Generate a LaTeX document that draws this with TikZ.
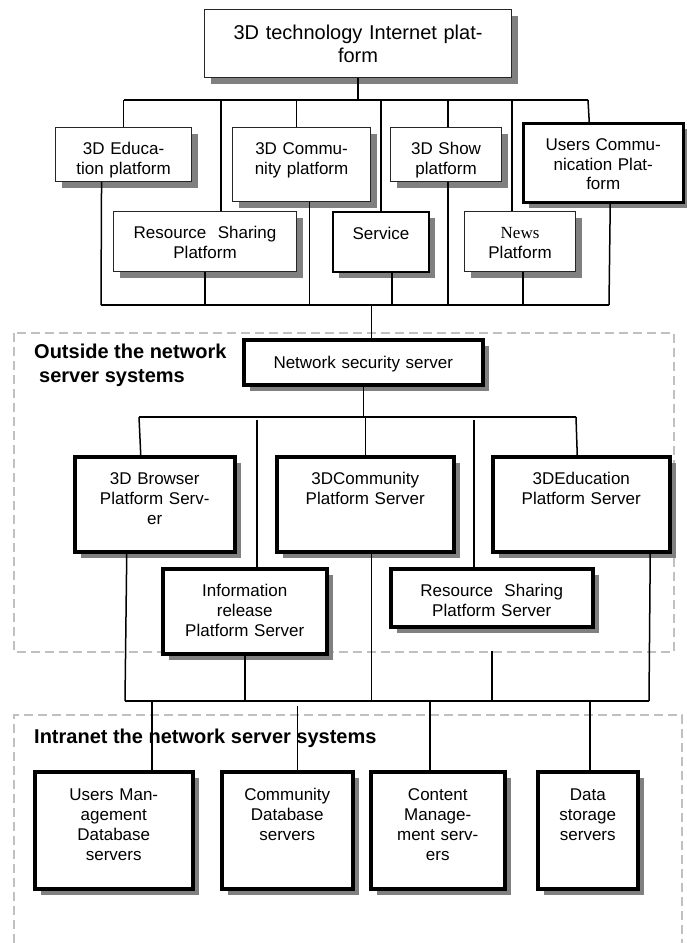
\documentclass[tikz,border=0pt]{standalone}
\usepackage{fontspec}
\setmainfont{Liberation Sans}
\newfontfamily\newsfont{Liberation Serif}
\usepackage{tikz}
\usetikzlibrary{shadows}
\definecolor{dashgray}{RGB}{192,192,192}
\definecolor{shadegray}{RGB}{128,128,128}

\begin{document}
\begin{tikzpicture}[x=1pt,y=-1pt,
		box/.style={rectangle, anchor=north west, inner sep=0pt, fill=white, align=center,
			font=\fontsize{17}{19.8}\selectfont, text height=27pt,
			drop shadow={shadow xshift=6pt, shadow yshift=-6pt, fill=shadegray, opacity=1}},
		thinbox/.style={box, draw=black!85, line width=1.1pt},
		thickbox/.style={box, draw=black, line width=3.5pt, text height=29pt},
		link/.style={draw, line width=1.5pt},
		zone/.style={draw=dashgray, line width=1.5pt, dash pattern=on 9pt off 5pt},
		zonelabel/.style={anchor=west, align=left, inner sep=0pt,
			font=\fontsize{20}{24}\selectfont\bfseries}]
		\useasboundingbox (0,0) rectangle (686,943);
		%
		\draw[zone] (14,333) rectangle (674,652);
		\draw[zone] (14,943) -- (14,715) -- (682,715) -- (682,943);
		\node[zonelabel] (outlbl) at (34,365) {Outside the network\\\hspace*{5pt}server systems};
		\node[zonelabel] (inlbl) at (34,738) {Intranet the network server systems};
		%
		\node[thinbox, text width=307pt, text height=30pt, text depth=38pt,
			font=\fontsize{20}{22.7}\selectfont] (top) at (204,9) {3D technology Internet plat-\\form};
		%
		\node[thinbox, text width=136pt, text depth=27pt] (edu) at (55,127) {3D Educa-\\tion platform};
		\node[thinbox, text width=138pt, text depth=47pt] (comm) at (232,127) {3D Commu-\\nity platform};
		\node[thinbox, text width=111pt, text depth=27pt] (show) at (390,127) {3D Show\\platform};
		\node[box, draw, line width=2.5pt, text width=160pt, text depth=52pt] (usrcom) at (522,122) {Users Commu-\\nication Plat-\\form};
		\node[thinbox, text width=183pt, text depth=33pt] (ressh) at (113,211) {Resource~ Sharing\\Platform};
		\node[box, draw, line width=2pt, text width=96pt, text depth=33pt] (serv) at (332,211) {Service};
		\node[thinbox, text width=111pt, text depth=33pt] (news) at (464,211) {{\newsfont News}\\Platform};
		%
		\node[thickbox, text width=239pt, text depth=16pt] (sec) at (242,338) {Network security server};
		\node[thickbox, text width=160pt, text height=28pt, text depth=67pt] (brw) at (73,455) {3D Browser\\Platform Serv-\\er};
		\node[thickbox, text width=177pt, text height=28pt, text depth=67pt] (csrv) at (275,455) {3DCommunity\\Platform Server};
		\node[thickbox, text width=177pt, text height=28pt, text depth=67pt] (esrv) at (491,455) {3DEducation\\Platform Server};
		\node[thickbox, text width=164pt, text height=28pt, text depth=57pt] (info) at (161,567) {Information\\release\\Platform Server};
		\node[thickbox, text width=202pt, text height=28pt, text depth=30pt] (rsrv) at (389,567) {Resource~ Sharing\\Platform Server};
		%
		\node[thickbox, text width=158pt, text depth=88pt] (umdb) at (33,770) {Users Man-\\agement\\Database\\servers};
		\node[thickbox, text width=131pt, text depth=88pt] (cdb) at (220,770) {Community\\Database\\servers};
		\node[thickbox, text width=134pt, text depth=88pt] (cms) at (369,770) {Content\\Manage-\\ment serv-\\ers};
		\node[thickbox, text width=100pt, text depth=88pt] (dss) at (536,770) {Data\\storage\\servers};
		%
		\coordinate (t1) at (124,100);
		\coordinate (t2) at (588,100);
		\coordinate (u1) at (101,305);
		\coordinate (u2) at (609,305);
		\coordinate (m1) at (139,417);
		\coordinate (m2) at (576,417);
		\coordinate (m3) at (0,420);
		\coordinate (l1) at (125,701);
		\coordinate (l2) at (649,701);
		\coordinate (l3) at (0,706);
		\coordinate (rs) at (492,651);
		%
		\draw[line width=2pt] (t1) -- (t2);
		\path[link]
		(top.south) edge (top.south |- t1)
		(edu.north) edge (edu.north |- t1)
		([xshift=16]ressh.north) edge ([xshift=16]ressh.north |- t1)
		([xshift=-5]comm.north) edge ([xshift=-5]comm.north |- t1)
		(serv.north) edge (serv.north |- t1)
		([xshift=2]show.north) edge ([xshift=2]show.north |- t1)
		([xshift=-8]news.north) edge ([xshift=-8]news.north |- t1)
		([xshift=-14]usrcom.north) edge (t2);
		%
		\path[link]
		(u1) edge (u2)
		([xshift=-22]edu.south) edge (u1)
		(ressh.south) edge (ressh.south |- u1)
		([xshift=8]comm.south) edge ([xshift=8]comm.south |- u1)
		([xshift=11]serv.south) edge ([xshift=11]serv.south |- u1)
		([xshift=2]show.south) edge ([xshift=2]show.south |- u1)
		([xshift=3]news.south) edge ([xshift=3]news.south |- u1)
		([xshift=7]usrcom.south) edge (u2)
		([xshift=8]sec.north) edge ([xshift=8]sec.north |- u1);
		%
		\path[link]
		(m1) edge (m2)
		(sec.south) edge (sec.south |- m1)
		([xshift=-14]brw.north) edge (m1)
		([xshift=12]info.north) edge ([xshift=12]info.north |- m3)
		(csrv.north) edge (csrv.north |- m1)
		([xshift=-18]rsrv.north) edge ([xshift=-18]rsrv.north |- m3)
		([xshift=-4]esrv.north) edge (m2);
		%
		\path[link]
		(l1) edge (l2)
		([xshift=-28]brw.south) edge (l1)
		(info.south) edge (info.south |- l1)
		([xshift=6]csrv.south) edge ([xshift=6]csrv.south |- l1)
		(rs) edge (rs |- l1)
		([xshift=69]esrv.south) edge (l2);
		%
		\path[link]
		([xshift=38]umdb.north) edge ([xshift=38]umdb.north |- l1)
		([xshift=10]cdb.north) edge ([xshift=10]cdb.north |- l3)
		([xshift=-8]cms.north) edge ([xshift=-8]cms.north |- l1)
		([xshift=2]dss.north) edge ([xshift=2]dss.north |- l1);
	\end{tikzpicture}
\end{document}
